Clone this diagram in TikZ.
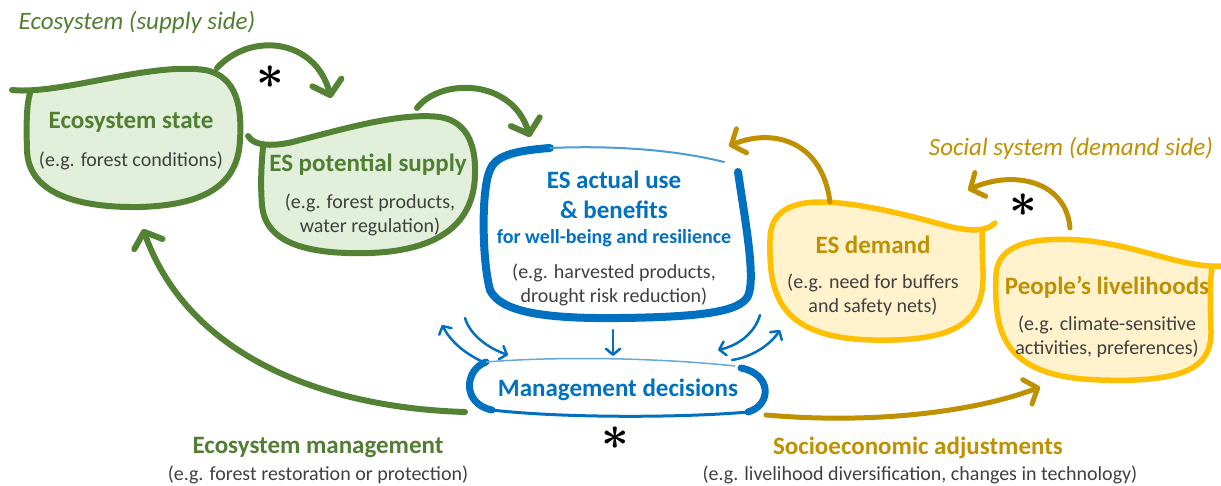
\documentclass[tikz,border=0pt]{standalone}
\usepackage{bm}
\usepackage{fontspec}
\setmainfont{Carlito}
\usetikzlibrary{arrows.meta}
\definecolor{gstroke}{HTML}{548235}
\definecolor{gfill}{HTML}{E2EFDA}
\definecolor{gtext}{HTML}{507E32}
\definecolor{bstroke}{HTML}{0070C0}
\definecolor{ystroke}{HTML}{FFC000}
\definecolor{yfill}{HTML}{FFF2CC}
\definecolor{gold}{HTML}{BF9000}
\definecolor{graytext}{HTML}{404040}
\tikzset{
  title/.style={font=\fontsize{25}{25}\selectfont\bfseries, inner sep=0pt},
  wellb/.style={font=\fontsize{20}{20}\selectfont\bfseries, inner sep=0pt},
  sub/.style={font=\fontsize{20}{20}\selectfont, text=graytext, inner sep=0pt},
  side/.style={font=\fontsize{25}{25}\selectfont\itshape, inner sep=0pt},
  star/.style={inner sep=0pt},
  gblob/.style={draw=gstroke, fill=gfill, line width=6pt, line cap=round, line join=round},
  yblob/.style={draw=ystroke, fill=yfill, line width=5.5pt, line cap=round, line join=round},
  garrow/.style={draw=gstroke, line width=6pt, line cap=round, -{Straight Barb[length=13pt,width=30pt,round]}},
  yarrow/.style={draw=gold, line width=5pt, line cap=round, -{Straight Barb[length=11pt,width=26pt,round]}},
  barrow/.style={draw=bstroke, line width=2.5pt, line cap=round, -{Straight Barb[length=6pt,width=14pt,round]}},
}
\newcommand{\mystar}{\scalebox{4.8}{$\bm{\ast}$}}
\begin{document}
\begin{tikzpicture}[x=1pt,y=-1pt]
\useasboundingbox (0,0) rectangle (1221,485);

% ---------- Ecosystem state
\path[gblob] (12,90) .. controls (60,95) and (150,62) .. (205,70)
  .. controls (238,76) and (242,110) .. (240,140)
  .. controls (238,185) and (205,205) .. (140,207)
  .. controls (70,208) and (28,190) .. (27,150)
  .. controls (26,120) and (27,103) .. (30,93);
\node[title, text=gtext] (estitle) at (131,122) {Ecosystem state};
\node[sub] (essub) at (131,161) {(e.g. forest conditions)};

% ---------- ES potential supply
\path[gblob] (248,136) .. controls (255,148) and (280,146) .. (300,140)
  .. controls (340,130) and (400,112) .. (440,117)
  .. controls (470,122) and (476,150) .. (475,175)
  .. controls (474,215) and (450,250) .. (370,253)
  .. controls (300,255) and (265,240) .. (262,205)
  .. controls (260,180) and (262,160) .. (263,146);
\node[title, text=gtext] (pstitle) at (368,165) {ES potential supply};
\node[sub, align=center] (pssub) at (370,215) {(e.g. forest products,\\[4pt]water regulation)};

% ---------- ES actual use
\draw[bstroke, line width=8pt, line cap=round]
  (738,172) .. controls (745,220) and (756,278) .. (748,296)
  .. controls (740,312) and (700,317) .. (620,318)
  .. controls (540,319) and (500,311) .. (490,290)
  .. controls (482,260) and (481,190) .. (490,170)
  .. controls (495,157) and (510,151) .. (550,148);
\draw[bstroke!70, line width=2pt, line cap=round]
  (550,148) .. controls (620,145) and (680,151) .. (724,162);
\node[title, text=bstroke] (autitle) at (614,180) {ES actual use};
\node[title, text=bstroke] (aubenef) at (614,210) {\& benefits};
\node[wellb, text=bstroke] (auwell) at (614,238) {for well-being and resilience};
\node[sub, align=center] (ausub) at (614,285) {(e.g. harvested products,\\[4pt]drought risk reduction)};

% ---------- Management decisions
\draw[bstroke, line width=7pt, line cap=round]
  (486,362) .. controls (464,370) and (462,404) .. (492,410);
\draw[bstroke!60, line width=1.5pt]
  (486,362) .. controls (560,356) and (660,358) .. (735,366);
\draw[bstroke, line width=3pt]
  (492,410) .. controls (560,418) and (680,418) .. (748,412);
\draw[bstroke, line width=7pt, line cap=round]
  (741,368) .. controls (772,374) and (772,405) .. (748,412);
\node[title, text=bstroke] (md) at (618,390) {Management decisions};
\node[star] (star2) at (615,438) {\mystar};

% ---------- ES demand
\path[yblob] (995,223) .. controls (985,233) and (965,231) .. (940,224)
  .. controls (900,213) and (840,198) .. (805,203)
  .. controls (780,207) and (770,220) .. (770,240)
  .. controls (769,290) and (775,338) .. (873,340)
  .. controls (960,342) and (985,320) .. (983,270)
  .. controls (982,250) and (982,236) .. (982,229);
\node[title, text=gold] (dtitle) at (873,245) {ES demand};
\node[sub, align=center] (dsub) at (873,295) {(e.g. need for buffers\\[4pt]and safety nets)};

% ---------- People's livelihoods
\path[yblob] (1221,266) .. controls (1180,268) and (1140,245) .. (1080,240)
  .. controls (1020,236) and (997,250) .. (996,275)
  .. controls (994,330) and (1000,377) .. (1100,380)
  .. controls (1190,383) and (1212,365) .. (1211,330)
  .. controls (1210,300) and (1210,282) .. (1212,268);
\node[title, text=gold] (ptitle) at (1107,287) {People’s livelihoods};
\node[sub, align=center] (psub) at (1107,337) {(e.g. climate-sensitive\\[4pt]activities, preferences)};

% ---------- side labels
\node[side, text=gtext] (supply) at (137,22) {Ecosystem (supply side)};
\node[side, text=gold] (demand) at (1071,148) {Social system (demand side)};
\node[title, text=gtext] (emt) at (318,448) {Ecosystem management};
\node[sub] (ems) at (318,475) {(e.g. forest restoration or protection)};
\node[title, text=gold] (sat) at (918,448) {Socioeconomic adjustments};
\node[sub] (sas) at (920,475) {(e.g. livelihood diversification, changes in technology)};

% ---------- arrow end points
\coordinate (a1s) at (217,68);  \coordinate (a1e) at (331,98);
\coordinate (a2s) at (417,108); \coordinate (a2e) at (530,137);
\coordinate (a3s) at (465,412); \coordinate (a3e) at (143,229);
\coordinate (a4s) at (830,202); \coordinate (a4e) at (729,146);
\coordinate (a5s) at (1070,228); \coordinate (a5e) at (968,190);
\coordinate (a6s) at (766,415); \coordinate (a6e) at (1040,387);
\coordinate (b1s) at (483,362); \coordinate (b1e) at (442,325);
\coordinate (b2s) at (465,318); \coordinate (b2e) at (508,355);
\coordinate (b3s) at (613,330); \coordinate (b3e) at (613,356);
\coordinate (b4s) at (760,315); \coordinate (b4e) at (718,350);
\coordinate (b5s) at (732,360); \coordinate (b5e) at (780,330);

% ---------- green arrows
\draw[garrow] (a1s) .. controls (250,32) and (315,38) .. (a1e);
\node[star] (star1) at (270,77) {\mystar};
\draw[garrow] (a2s) .. controls (440,78) and (512,78) .. (a2e);
\draw[garrow] (a3s) .. controls (330,408) and (190,360) .. (a3e);

% ---------- gold arrows
\draw[yarrow] (a4s) .. controls (822,140) and (772,128) .. (a4e);
\draw[yarrow] (a5s) .. controls (1066,180) and (1012,170) .. (a5e);
\node[star] (star3) at (1023,205) {\mystar};
\draw[yarrow] (a6s) .. controls (880,425) and (980,410) .. (a6e);

% ---------- blue small arrows
\draw[barrow] (b1s) .. controls (462,352) and (450,340) .. (b1e);
\draw[barrow] (b2s) .. controls (470,335) and (488,348) .. (b2e);
\draw[barrow] (b3s) -- (b3e);
\draw[barrow] (b4s) .. controls (755,332) and (740,345) .. (b4e);
\draw[barrow] (b5s) .. controls (752,357) and (770,345) .. (b5e);
\end{tikzpicture}
\end{document}
